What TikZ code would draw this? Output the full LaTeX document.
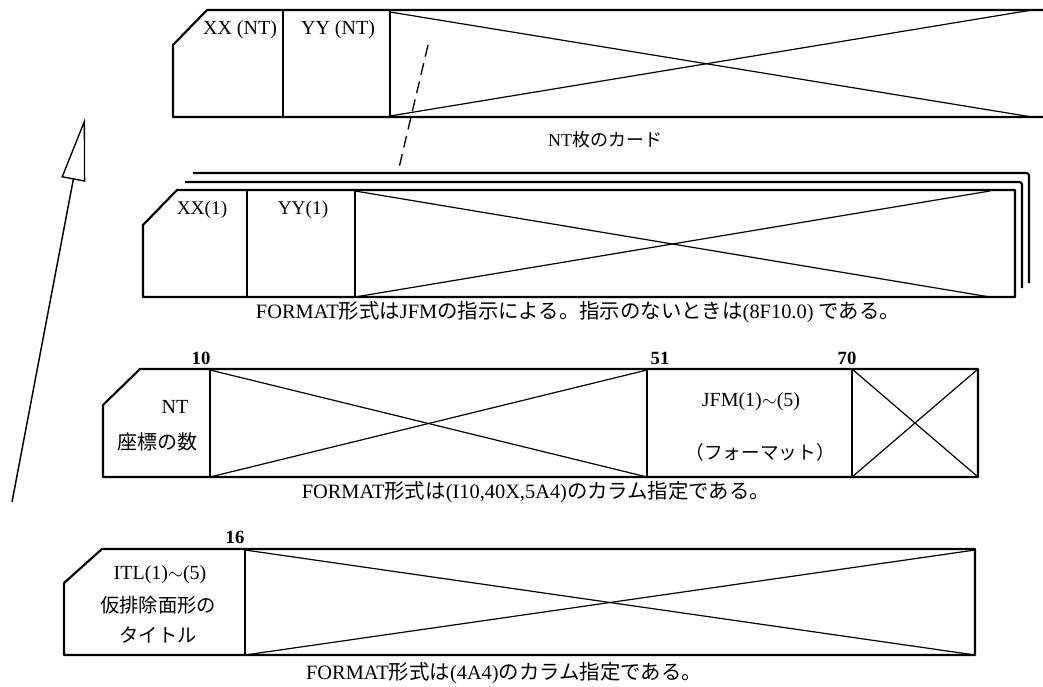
\documentclass[tikz,border=0pt]{standalone}
\usepackage{fontspec}
\setmainfont{Liberation Serif}
\newfontfamily\jpfont{Noto Sans CJK JP}
\usetikzlibrary{arrows.meta}
\newcommand\J[1]{{\jpfont #1}}
\begin{document}
\begin{tikzpicture}[x=0.75pt,y=-0.75pt,
  card/.style={line width=1.6pt, line join=round},
  layer/.style={line width=1.6pt, rounded corners=2pt},
  divider/.style={line width=1.3pt},
  cross/.style={line width=0.9pt},
  lbl/.style={font=\fontsize{15}{17}\selectfont, inner sep=0pt},
  jlbl/.style={font=\fontsize{14.5}{17}\selectfont, inner sep=0pt},
  captxt/.style={font=\fontsize{15.3}{17}\selectfont, inner sep=0pt},
  num/.style={font=\fontsize{14}{16}\selectfont\bfseries, inner sep=0pt}]
\useasboundingbox (0,0) rectangle (1043,686);

% ---------- card NT (top) ----------
\draw[card] (1043,10) -- (207,10) -- (173,45) -- (173,117) -- (1043,117);
\draw[divider] (283,10) -- (283,117);
\draw[divider] (390,10) -- (390,117);
\draw[cross] (390,12) -- (1032,117);
\draw[cross] (390,116) -- (1032,10);
\node[lbl] (xxnt) at (240,30) {XX (NT)};
\node[lbl] (yynt) at (338,30) {YY (NT)};
\node[jlbl, font=\fontsize{13.5}{15}\selectfont] (ntcards) at (605,140) {NT\J{枚のカード}};

% dashed link
\coordinate (dA) at (428,45);
\coordinate (dB) at (398,172);
\draw[line width=1pt, dash pattern=on 9pt off 5pt] (dA) -- (dB);

% ---------- stacked cards ----------
\draw[layer] (193,173) -- (1029,173) -- (1029,283);
\draw[layer] (185,182) -- (1022,182) -- (1022,288);
\draw[card] (143,225) -- (177,190) -- (1015,190) -- (1015,297) -- (143,297) -- cycle;
\draw[divider] (247,190) -- (247,297);
\draw[divider] (355,190) -- (355,297);
\draw[cross] (355,191) -- (990,297);
\draw[cross] (355,297) -- (990,191);
\node[lbl, font=\fontsize{14.5}{16}\selectfont] (xx1) at (202,210) {XX(1)};
\node[lbl, font=\fontsize{14.5}{16}\selectfont] (yy1) at (303,210) {YY(1)};
\node[captxt] (cap1) at (578,312) {FORMAT\J{形式は}JFM\J{の指示による。指示のないときは}(8F10.0) \J{である。}};

% ---------- card 3 ----------
\node[num] (n10) at (201,358) {10};
\node[num] (n51) at (660,358) {51};
\node[num] (n70) at (847,358) {70};
\draw[card] (103,405) -- (140,369) -- (978,369) -- (978,477) -- (103,477) -- cycle;
\draw[divider] (210,369) -- (210,477);
\draw[divider] (647,369) -- (647,477);
\draw[divider] (852,369) -- (852,477);
\draw[cross] (210,370) -- (647,477);
\draw[cross] (210,477) -- (647,370);
\draw[cross] (852,369) -- (978,477);
\draw[cross] (852,477) -- (978,369);
\node[lbl] (nt) at (175,407) {NT};
\node[jlbl, font=\fontsize{15}{17}\selectfont] (zahyo) at (157,442) {\J{座標の数}};
\node[lbl] (jfm) at (751,402) {JFM(1)$\sim$(5)};
\node[jlbl, font=\fontsize{14}{16}\selectfont] (fmt) at (760,452) {\J{（フォーマット）}};
\node[captxt] (cap2) at (536,492) {FORMAT\J{形式は}(I10,40X,5A4)\J{のカラム指定である。}};

% ---------- card 4 ----------
\node[num] (n16) at (235,537) {16};
\draw[card] (64,583) -- (102,549) -- (975,549) -- (975,655) -- (64,655) -- cycle;
\draw[divider] (245,549) -- (245,655);
\draw[cross] (245,550) -- (975,655);
\draw[cross] (245,655) -- (975,550);
\node[lbl] (itl) at (160,575) {ITL(1)$\sim$(5)};
\node[jlbl] (kari) at (158,605) {\J{仮排除面形の}};
\node[jlbl] (title) at (158,635) {\J{タイトル}};
\node[captxt] (cap3) at (504,673) {FORMAT\J{形式は}(4A4)\J{のカラム指定である。}};

% ---------- big arrow ----------
\coordinate (aS) at (12,502);
\coordinate (aT) at (85,118);
\draw[line width=1.1pt, -{Triangle[open, length=47pt, width=18pt, line width=1pt]}] (aS) -- (aT);
\end{tikzpicture}
\end{document}
